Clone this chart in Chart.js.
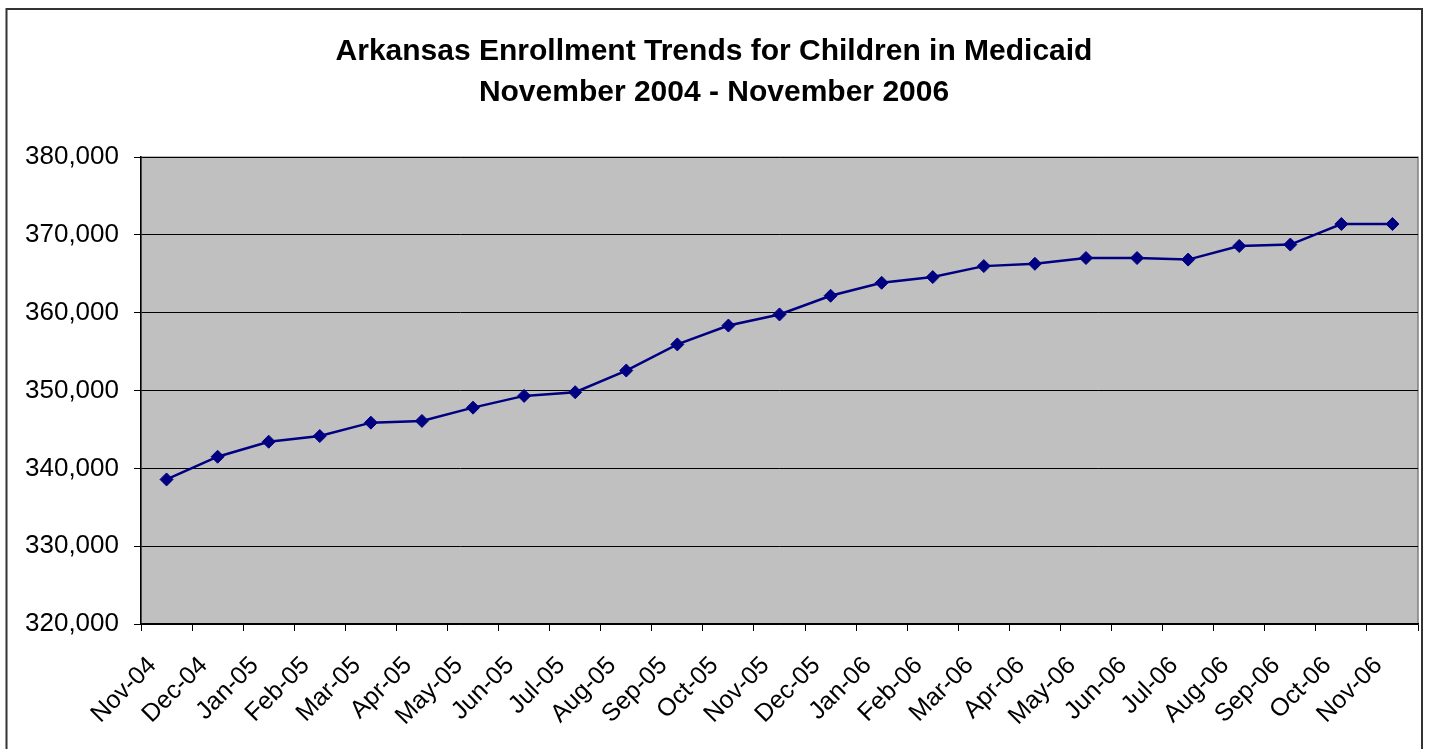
<!DOCTYPE html>
<html>
<head>
<meta charset="utf-8">
<script src="https://cdn.jsdelivr.net/npm/chart.js@4.4.1/dist/chart.umd.min.js"></script>
<style>
  html, body { margin: 0; padding: 0; background: #fff; }
  #wrap { width: 1429px; height: 749px; position: relative; }
</style>
</head>
<body>
<div id="wrap"><canvas id="enrollChart" width="1429" height="749"></canvas></div>
<script>
// Data
const months = ['Nov-04', 'Dec-04', 'Jan-05', 'Feb-05', 'Mar-05', 'Apr-05', 'May-05', 'Jun-05', 'Jul-05',
    'Aug-05', 'Sep-05', 'Oct-05', 'Nov-05', 'Dec-05', 'Jan-06', 'Feb-06', 'Mar-06', 'Apr-06',
    'May-06', 'Jun-06', 'Jul-06', 'Aug-06', 'Sep-06', 'Oct-06', 'Nov-06'];
const enrollment = [338580, 341500, 343430, 344160, 345880, 346100, 347810, 349320, 349790,
    352580, 355940, 358360, 359790, 362190, 363860, 364590, 366000, 366300,
    367040, 367040, 366840, 368590, 368770, 371410, 371410];
const yMin = 320000;
const yMax = 380000;
const yStep = 10000;
const titleLines = ['Arkansas Enrollment Trends for Children in Medicaid', 'November 2004 - November 2006'];

// gray plot area + outer frame
const backdrop = {
    id: 'backdrop',
    beforeDraw(chart) {
        const { ctx, chartArea: a } = chart;
        ctx.save();
        ctx.fillStyle = '#c0c0c0';
        ctx.fillRect(a.left, a.top, a.right - a.left, a.bottom - a.top);
        ctx.strokeStyle = '#808080';
        ctx.lineWidth = 1.5;
        ctx.strokeRect(a.left, a.top, a.right - a.left, a.bottom - a.top);
        ctx.strokeStyle = '#333';
        ctx.lineWidth = 2;
        ctx.strokeRect(6.5, 9, 1415.5, 760);
        ctx.restore();
    }
};

const ctx = document.getElementById('enrollChart').getContext('2d');
const enrollChart = new Chart(ctx, {
    type: 'line',
    data: {
        labels: months,
        datasets: [{
            data: enrollment,
            borderColor: '#000080',
            backgroundColor: '#000080',
            borderWidth: 2.5,
            pointStyle: 'rectRot',
            pointRadius: 6.5,
            pointBorderWidth: 1,
            tension: 0
        }]
    },
    options: {
        responsive: false,
        animation: false,
        layout: { padding: { left: 10, right: 11, top: 0, bottom: 0 } },
        plugins: {
            legend: { display: false },
            tooltip: { enabled: false },
            title: {
                display: true,
                text: titleLines,
                color: '#000',
                font: { family: 'Liberation Sans, Arial, sans-serif', size: 30, weight: 'bold', lineHeight: 1.37 },
                padding: { top: 31, bottom: 44 }
            }
        },
        scales: {
            x: {
                offset: true,
                grid: { display: true, offset: true, drawOnChartArea: false, color: '#000', tickLength: 7, tickWidth: 1 },
                border: { display: true, color: '#000', width: 1.5 },
                ticks: {
                    color: '#000',
                    autoSkip: false,
                    maxRotation: 45,
                    minRotation: 45,
                    labelOffset: -14,
                    padding: 20,
                    font: { family: 'Liberation Sans, Arial, sans-serif', size: 25 }
                },
                afterFit(s) {
                    s.height = 125;
                    s.paddingLeft = 0;
                    s.paddingRight = 0;
                }
            },
            y: {
                min: yMin,
                max: yMax,
                grid: { color: '#000', lineWidth: 1, tickLength: 7 },
                border: { display: true, color: '#000', width: 1.5 },
                ticks: {
                    stepSize: yStep,
                    color: '#000',
                    padding: 15,
                    font: { family: 'Liberation Sans, Arial, sans-serif', size: 26 },
                    callback: v => v.toLocaleString('en-US')
                },
                afterFit(s) { s.width = 131; }
            }
        }
    },
    plugins: [backdrop]
});
</script>
</body>
</html>
